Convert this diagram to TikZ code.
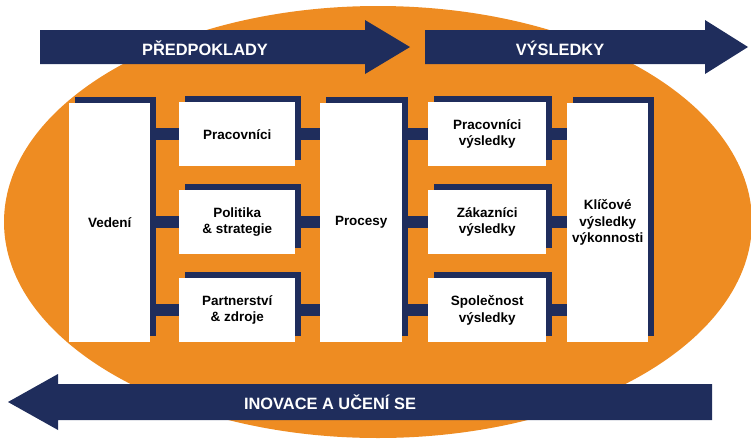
\documentclass[tikz,border=0pt]{standalone}
\usepackage{fontspec}
\setmainfont{Liberation Sans}
\usetikzlibrary{backgrounds}
\definecolor{efqmorange}{HTML}{EE8C22}
\definecolor{efqmnavy}{HTML}{1F2D5C}
\tikzset{
  crit/.style={fill=white, draw=none, align=center, font=\bfseries\fontsize{11.5}{14}\selectfont,
    inner sep=0pt, anchor=north west},
  shadow/.style={fill=efqmnavy},
  link/.style={efqmnavy, line width=10pt},
  flow/.style={fill=efqmnavy},
  flowtext/.style={white, font=\bfseries\fontsize{14}{16}\selectfont}
}
\begin{document}
\begin{tikzpicture}[x=0.03cm, y=-0.03cm]
\useasboundingbox (0,0) rectangle (751,441);
% boxes
\node[crit, minimum width=81*0.03cm, minimum height=239*0.03cm] (ved) at (69,103) {Vedení};
\node[crit, minimum width=116*0.03cm, minimum height=64*0.03cm] (prac) at (179,102) {Pracovníci};
\node[crit, minimum width=116*0.03cm, minimum height=64*0.03cm] (pol) at (179,190) {Politika\\\& strategie};
\node[crit, minimum width=116*0.03cm, minimum height=64*0.03cm] (part) at (179,278) {Partnerství\\\& zdroje};
\node[crit, minimum width=82*0.03cm, minimum height=239*0.03cm] (proc) at (320,103) {Procesy};
\node[crit, minimum width=118*0.03cm, minimum height=64*0.03cm] (pvys) at (428,102) {Pracovníci\\výsledky};
\node[crit, minimum width=118*0.03cm, minimum height=64*0.03cm] (zvys) at (428,190) {Zákazníci\\výsledky};
\node[crit, minimum width=118*0.03cm, minimum height=64*0.03cm] (svys) at (428,278) {Společnost\\výsledky};
\node[crit, minimum width=81*0.03cm, minimum height=239*0.03cm] (klic) at (567,103) {Klíčové\\výsledky\\výkonnosti};
\begin{scope}[on background layer]
\fill[efqmorange] (378,222) ellipse [x radius=374, y radius=216];
% arrows
\fill[flow] (40,30) -- (365,30) -- (365,20) -- (410,47) -- (365,74) -- (365,64) -- (40,64) -- cycle;
\fill[flow] (425,30) -- (705,30) -- (705,20) -- (748,47) -- (705,74) -- (705,64) -- (425,64) -- cycle;
\fill[flow] (712,384) -- (58,384) -- (58,374) -- (8,402) -- (58,430) -- (58,420) -- (712,420) -- cycle;
% links
\foreach \a/\b in {prac/ved, pol/ved, part/ved, prac/proc, pol/proc, part/proc,
    pvys/proc, zvys/proc, svys/proc, pvys/klic, zvys/klic, svys/klic}
  \draw[link] (\a.center) -- (\a.center -| \b.center);
% shadows
\foreach \n in {ved, prac, pol, part, proc, pvys, zvys, svys, klic}
  \fill[shadow] ([xshift=6*0.03cm, yshift=6*0.03cm]\n.north west) rectangle ([xshift=6*0.03cm, yshift=6*0.03cm]\n.south east);
\end{scope}
\node[flowtext] (pred) at (205,48) {PŘEDPOKLADY};
\node[flowtext] (vys) at (560,48) {VÝSLEDKY};
\node[flowtext] (inov) at (330,402) {INOVACE A UČENÍ SE};
\end{tikzpicture}
\end{document}
